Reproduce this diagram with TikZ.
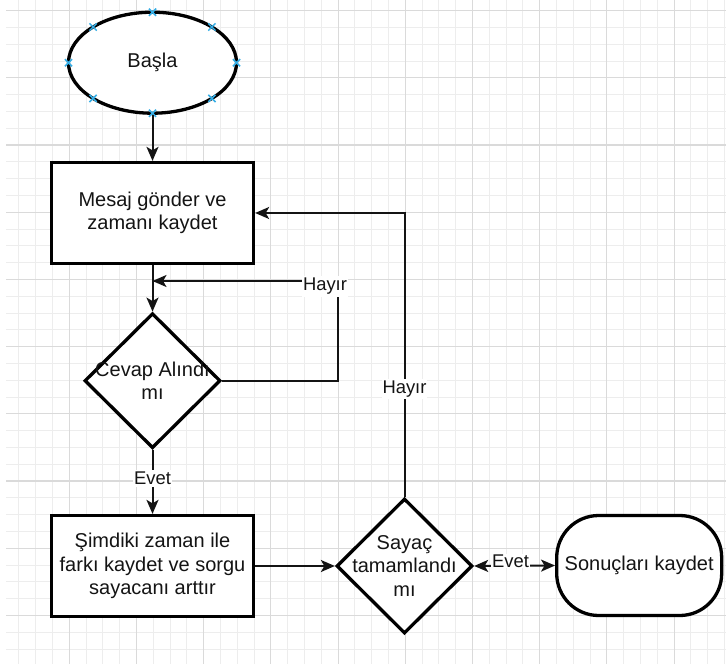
\documentclass[tikz,border=0pt]{standalone}
\usepackage{fontspec}
\setmainfont{Liberation Sans}
\usetikzlibrary{shapes.geometric, arrows.meta}

\definecolor{gridmajor}{HTML}{DADADA}
\definecolor{gridminor}{HTML}{EDEDED}
\definecolor{markblue}{HTML}{36AEE6}
\definecolor{ink}{HTML}{141414}

\begin{document}
\begin{tikzpicture}[x=1pt, y=-1pt,
  nodefont/.style={font=\fontsize{20}{23.4}\selectfont, text=ink},
  box/.style={draw=black, line width=3.3pt, fill=white, inner sep=0pt, align=center, nodefont},
  process/.style={box, rectangle, minimum width=202pt, minimum height=101pt},
  startstop/.style={box, ellipse, minimum width=168pt, minimum height=101pt},
  terminal/.style={box, rectangle, rounded corners=42pt, minimum width=165pt, minimum height=100pt},
  decision/.style={box, diamond, minimum width=136pt, minimum height=135pt},
  tip/.tip={Stealth[length=14pt, width=12pt, inset=3.5pt]},
  flow/.style={draw=ink, line width=2pt, -tip},
  lbl/.style={fill=white, inner xsep=1pt, inner ysep=2pt, font=\fontsize{18.4}{21}\selectfont, text=ink},
  xmark/.style={draw=markblue, line width=1.5pt},
]
% page and background grid
\useasboundingbox (0,0) rectangle (726,664);
\fill[white] (0,0) rectangle (726,664);
\foreach \k in {1,...,43}
  \draw[gridminor, line width=0.9pt] ({2.1+16.8*\k},0) -- ({2.1+16.8*\k},664);
\foreach \k in {0,...,38}
  \draw[gridminor, line width=0.9pt] (6,{10.6+16.8*\k}) -- (726,{10.6+16.8*\k});
\foreach \k in {1,...,10}
  \draw[gridmajor, line width=1.1pt] ({2.1+67.2*\k},0) -- ({2.1+67.2*\k},664);
\foreach \k in {0,...,9}
  \draw[gridmajor, line width=1.1pt] (6,{10.6+67.2*\k}) -- (726,{10.6+67.2*\k});

% shapes
\node[startstop] (start) at (152.5,62.7) {Başla};
\node[process] (msg) at (152.5,213) {Mesaj gönder ve\\zamanı kaydet};
\node[decision, label={[align=center, nodefont]center:{Cevap Alındı\\mı}}] (q1) at (152.5,380.7) {};
\node[process] (proc) at (152.5,566) {Şimdiki zaman ile\\farkı kaydet ve sorgu\\sayacanı arttır};
\node[decision, label={[align=center, nodefont]center:{Sayaç\\tamamlandı\\mı}}] (q2) at (404.5,566) {};
\node[terminal] (end) at (639.2,565.5) {Sonuçları kaydet};

% connection points on the start ellipse
\foreach \a in {0,45,...,315}
  \draw[xmark, shift={(start.center)}] (\a:84pt and 50.5pt) +(-3.6pt,-3.6pt) -- +(3.6pt,3.6pt) +(-3.6pt,3.6pt) -- +(3.6pt,-3.6pt);

% connectors
\coordinate (loopcorner) at (337.7,281);
\coordinate (loopin) at (152.5,281);
\draw[flow] (start.south) -- (msg.north);
\draw[flow] (msg.south) -- (q1.north);
\draw[flow] (q1.east) -| (loopcorner) -- (loopin);
\node[lbl] (h1) at (325,286.5) {Hayır};
\draw[flow] (q1.south) -- node[lbl, pos=0.45] (e1) {Evet} (proc.north);
\draw[flow] (proc.east) -- (q2.west);
\draw[flow] (q2.north) |- node[lbl, pos=0.19] (h2) {Hayır} (msg.east);
\draw[flow, tip-tip] (q2.east) -- node[lbl, pos=0.45, yshift=4.5pt, inner ysep=0.5pt] (e2) {Evet} (end.west);
\end{tikzpicture}
\end{document}
